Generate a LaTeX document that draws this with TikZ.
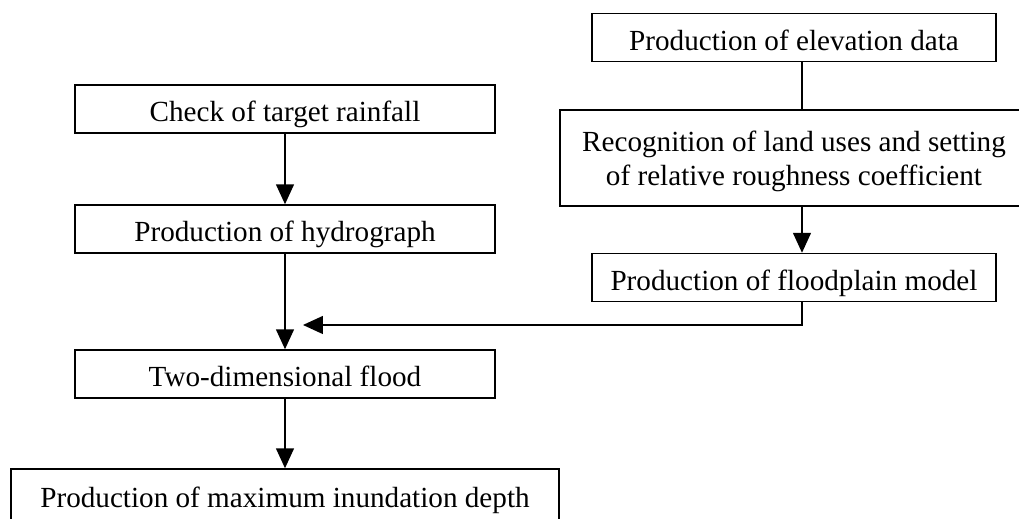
\documentclass[tikz,border=0pt]{standalone}
\usepackage{fontspec}
\setmainfont{Liberation Serif}
\usetikzlibrary{arrows.meta,positioning,calc}

\begin{document}
\begin{tikzpicture}[x=0.02cm,y=-0.02cm,
  stage/.style={rectangle,draw,line width=0.85pt,inner sep=0pt,minimum height=0.96cm,text depth=0pt,font=\fontsize{16.6pt}{19.3pt}\selectfont},
  single/.style={stage,text height=0.52cm},
  double/.style={stage,align=center},
  flow/.style={-{Triangle[length=0.4cm,width=0.36cm]},line width=0.85pt},
  plain/.style={line width=0.85pt}]
\useasboundingbox (0,0) rectangle (1019,519);
% left column
\node[single,minimum width=8.4cm] (check) at (285,109) {Check of target rainfall};
\node[single,minimum width=8.4cm] (hydro) at (285,229) {Production of hydrograph};
\node[single,minimum width=8.4cm] (twod) at (285,374) {Two-dimensional flood};
\node[single,minimum width=10.96cm,minimum height=1.04cm] (maxdepth) at (285,495) {Production of maximum inundation depth};
% right column
\node[single,minimum width=8.08cm] (elev) at (794,37.5) {Production of elevation data};
\node[double,minimum width=9.36cm,minimum height=1.92cm] (recog) at (794,158) {Recognition of land uses and setting\\of relative roughness coefficient};
\node[single,minimum width=8.08cm] (flood) at (794,277.5) {Production of floodplain model};
% joints
\coordinate (joint) at (802,325);
\coordinate (merge) at (303,325);
% connectors
\draw[flow] (check) -- (hydro);
\draw[flow] (hydro) -- (twod);
\draw[flow] (twod) -- (maxdepth);
\draw[plain] (elev.south -| joint) -- (recog.north -| joint);
\draw[flow] (recog.south -| joint) -- (flood.north -| joint);
\draw[flow] (flood.south -| joint) -- (joint) -- (merge);
\end{tikzpicture}
\end{document}
